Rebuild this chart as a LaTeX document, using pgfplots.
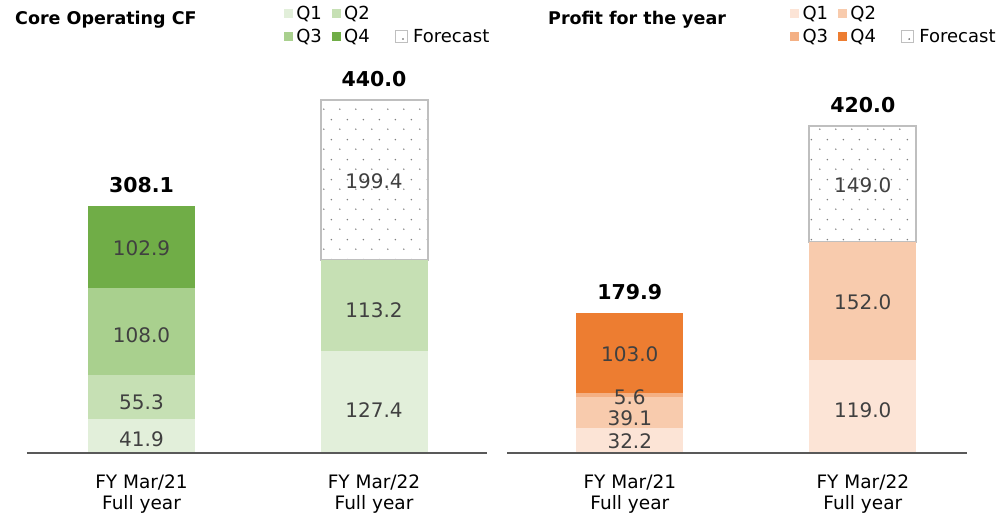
\documentclass[border=0pt]{standalone}
\usepackage{pgfplots}
\pgfplotsset{compat=1.18}
\usepackage{fontspec}
\setmainfont{DejaVu Sans}
\usetikzlibrary{patterns.meta}
\definecolor{gA}{HTML}{E2EFDA}
\definecolor{gB}{HTML}{C6E0B4}
\definecolor{gC}{HTML}{A9D08E}
\definecolor{gD}{HTML}{70AD47}
\definecolor{oA}{HTML}{FCE4D6}
\definecolor{oB}{HTML}{F8CBAD}
\definecolor{oC}{HTML}{F4B084}
\definecolor{oD}{HTML}{ED7D31}
\definecolor{labgray}{HTML}{404040}
\definecolor{axgray}{HTML}{595959}
\definecolor{fcgray}{HTML}{BFBFBF}
\tikzdeclarepattern{
  name=fcdots,
  type=uncolored,
  bounding box={(0pt,0pt) and (16pt,20pt)},
  tile size={(16pt,20pt)},
  code={
    \fill (4pt,5pt) circle (0.85pt);
    \fill (12pt,15pt) circle (0.85pt);
  }
}
\pgfplotsset{
  base/.style={scale only axis, width=460pt, height=380pt, ymin=0, clip=false},
  barax/.style={base, hide axis, ybar stacked, bar width=107pt},
  seg/.style={draw=none, fill=#1},
  fcbar/.style={fill=white, draw=fcgray, line width=2pt,
     postaction={pattern=fcdots, pattern color=black!50}},
  legsq/.style={legend image code/.code={\fill[fill=#1, draw=none] (0pt,-4.5pt) rectangle (9pt,4.5pt); \path (11pt,0pt);}},
  legfc/.style={legend image code/.code={\path (0pt,0pt); \draw[fcgray, line width=0.9pt, fill=white] (15pt,-6pt) rectangle (27pt,6pt); \fill[black!55] (23pt,-2.5pt) circle (0.6pt); \path (32pt,0pt);}},
  labax/.style={base, axis x line=bottom, axis y line=none,
     axis line style={-, draw=axgray, line width=1.6pt},
     xtick={0,1}, ytick=\empty, major tick length=0pt,
     xticklabels={{FY Mar/21\\Full year},{FY Mar/22\\Full year}},
     xticklabel style={align=center, font=\fontsize{18.5}{21.5}\selectfont, yshift=-18pt},
     legend columns=3,
     legend style={draw=none, fill=none, anchor=north west, legend cell align=left,
        nodes={inner sep=1pt, font=\fontsize{18}{21}\selectfont},
        /tikz/every even column/.append style={column sep=9pt},
        row sep=6pt},
  },
  lab/.style={draw=none, mark=none, forget plot, nodes near coords, point meta=explicit symbolic,
     every node near coord/.style={anchor=center, inner sep=0pt, text=labgray, font=\fontsize{20}{22}\selectfont}},
  tot/.style={draw=none, mark=none, forget plot, nodes near coords, point meta=explicit symbolic,
     every node near coord/.style={anchor=south, inner sep=0pt, yshift=13pt, text=black, font=\fontsize{20.5}{22}\bfseries\selectfont}},
}
\begin{document}
\begin{tikzpicture}
\useasboundingbox (0,0) rectangle (1007pt,514pt);
% ---------------- Left: Core Operating CF
\begin{axis}[barax, at={(27pt,61pt)}, anchor=south west, ymax=473.8, xmin=-0.4925, xmax=1.486]
  \addplot[seg=gA] coordinates {(0,41.9)};
  \addplot[seg=gB] coordinates {(0,55.3)};
  \addplot[seg=gC] coordinates {(0,108.0)};
  \addplot[seg=gD] coordinates {(0,102.9)};
\end{axis}
\begin{axis}[barax, at={(27pt,61pt)}, anchor=south west, ymax=473.8, xmin=-0.4925, xmax=1.486]
  \addplot[seg=gA] coordinates {(1,127.4)};
  \addplot[seg=gB] coordinates {(1,113.2)};
  \addplot[fcbar] coordinates {(1,199.4)};
\end{axis}
\begin{axis}[labax, at={(27pt,61pt)}, anchor=south west, ymax=473.8, xmin=-0.4925, xmax=1.486,
   legend style={at={(0.552,1.184)}}]
  \addlegendimage{legsq=gA}\addlegendentry{Q1}
  \addlegendimage{legsq=gB}\addlegendentry{Q2}
  \addlegendimage{empty legend}\addlegendentry{}
  \addlegendimage{legsq=gC}\addlegendentry{Q3}
  \addlegendimage{legsq=gD}\addlegendentry{Q4}
  \addlegendimage{legfc}\addlegendentry{Forecast}
  \addplot[lab] table[meta=lab] {
x y lab
0 17 41.9
0 63 55.3
0 147 108.0
0 255 102.9
1 54 127.4
1 178 113.2
1 339 199.4
};
  \addplot[tot] table[meta=lab] {
x y lab
0 308.1 308.1
1 440.0 440.0
};
\end{axis}
% ---------------- Right: Profit for the year
\begin{axis}[barax, at={(507pt,61pt)}, anchor=south west, ymax=487.8, xmin=-0.527, xmax=1.447]
  \addplot[seg=oA] coordinates {(0,32.2)};
  \addplot[seg=oB] coordinates {(0,39.1)};
  \addplot[seg=oC] coordinates {(0,5.6)};
  \addplot[seg=oD] coordinates {(0,103.0)};
\end{axis}
\begin{axis}[barax, at={(507pt,61pt)}, anchor=south west, ymax=487.8, xmin=-0.527, xmax=1.447]
  \addplot[seg=oA] coordinates {(1,119.0)};
  \addplot[seg=oB] coordinates {(1,152.0)};
  \addplot[fcbar] coordinates {(1,149.0)};
\end{axis}
\begin{axis}[labax, at={(507pt,61pt)}, anchor=south west, ymax=487.8, xmin=-0.527, xmax=1.447,
   legend style={at={(0.609,1.184)}}]
  \addlegendimage{legsq=oA}\addlegendentry{Q1}
  \addlegendimage{legsq=oB}\addlegendentry{Q2}
  \addlegendimage{empty legend}\addlegendentry{}
  \addlegendimage{legsq=oC}\addlegendentry{Q3}
  \addlegendimage{legsq=oD}\addlegendentry{Q4}
  \addlegendimage{legfc}\addlegendentry{Forecast}
  \addplot[lab] table[meta=lab] {
x y lab
0 15.4 32.2
0 45 39.1
0 72 5.6
0 127 103.0
1 55.2 119.0
1 193.8 152.0
1 344 149.0
};
  \addplot[tot] table[meta=lab] {
x y lab
0 179.9 179.9
1 420.0 420.0
};
\end{axis}
% titles
\node[anchor=west, inner sep=0pt, font=\fontsize{17.5}{20}\bfseries\selectfont] at (15pt,494pt) {Core Operating CF};
\node[anchor=west, inner sep=0pt, font=\fontsize{17.5}{20}\bfseries\selectfont] at (548pt,494pt) {Profit for the year};
\end{tikzpicture}
\end{document}
